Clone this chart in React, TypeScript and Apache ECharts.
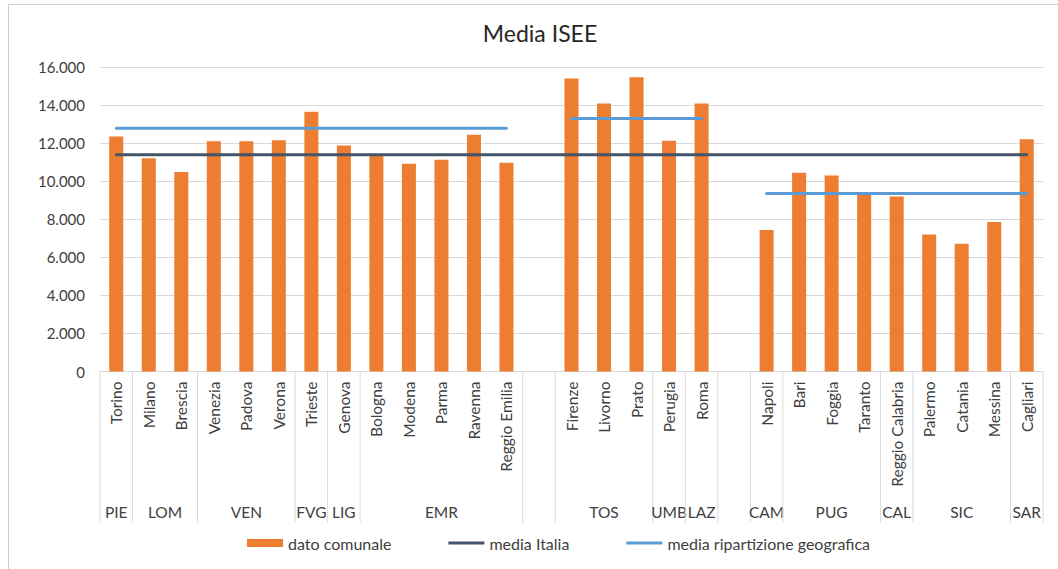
import React, { useEffect, useRef } from "react";
import * as echarts from "echarts";

// Comuni (categories on the inner axis level); empty strings are spacer columns
const cities = [
  "Torino", "Milano", "Brescia", "Venezia", "Padova", "Verona", "Trieste", "Genova",
  "Bologna", "Modena", "Parma", "Ravenna", "Reggio Emilia", "",
  "Firenze", "Livorno", "Prato", "Perugia", "Roma", "",
  "Napoli", "Bari", "Foggia", "Taranto", "Reggio Calabria", "Palermo", "Catania", "Messina", "Cagliari",
];

// Media ISEE per comune
const comuneValues = [
  12350, 11200, 10480, 12100, 12100, 12150, 13650, 11870,
  11380, 10920, 11130, 12440, 10970, null,
  15390, 14080, 15460, 12130, 14080, null,
  7440, 10440, 10300, 9330, 9200, 7200, 6710, 7860, 12200,
];

// National average
const italiaAverage = 11390;

// Averages of the geographic areas, and which area each column belongs to
const areaAverages = [12780, 13300, 9350];
const cityArea = [
  0, 0, 0, 0, 0, 0, 0, 0, 0, 0, 0, 0, 0, null,
  1, 1, 1, 1, 1, null,
  2, 2, 2, 2, 2, 2, 2, 2, 2,
];

// Outer axis level: region codes and how many columns each spans
const regionCodes = ["PIE", "LOM", "VEN", "FVG", "LIG", "EMR", "", "TOS", "UMB", "LAZ", "", "CAM", "PUG", "CAL", "SIC", "SAR"];
const regionSpans = [1, 2, 3, 1, 1, 5, 1, 3, 1, 1, 1, 1, 3, 1, 3, 1];

// Y axis ticks
const yMin = 0;
const yMax = 16000;
const yStep = 2000;

const FONT = "Lato, 'Liberation Sans', sans-serif";
const TEXT = "#404040";
const RULE = "#d9d9d9";

// thin bar used as the legend icon of the line series
const LINE_ICON = "path://M0,0 L36,0 L36,3 L0,3 Z";

const formatThousands = (v: number) =>
  String(v).replace(/\B(?=(\d{3})+(?!\d))/g, ".");

export default function App() {
  const ref = useRef<HTMLDivElement>(null);

  useEffect(() => {
    if (!ref.current) return;
    const chart = echarts.init(ref.current, undefined, { renderer: "svg" });

    const regionStarts: number[] = [];
    regionSpans.reduce((acc, n) => {
      regionStarts.push(acc);
      return acc + n;
    }, 0);

    const italiaLine = cities.map(() => italiaAverage);
    const areaLine = cityArea.map((a) => (a === null ? null : areaAverages[a]));

    chart.setOption({
      animation: false,
      backgroundColor: "#ffffff",
      title: {
        text: "Media ISEE",
        left: 535,
        textAlign: "center",
        top: 16,
        textStyle: { fontFamily: FONT, fontSize: 23, fontWeight: "normal", color: "#262626" },
      },
      graphic: [
        {
          type: "rect",
          shape: { x: 8.5, y: 4.5, width: 1100, height: 620 },
          style: { fill: "none", stroke: "#d0d0d0", lineWidth: 1 },
          silent: true,
        },
      ],
      legend: {
        data: [
          { name: "dato comunale", icon: "rect" },
          { name: "media Italia", icon: LINE_ICON },
          { name: "media ripartizione geografica", icon: LINE_ICON },
        ],
        left: 242,
        top: 530,
        itemWidth: 36,
        itemHeight: 8,
        itemGap: 57,
        symbolKeepAspect: true,
        textStyle: { fontFamily: FONT, fontSize: 16, color: TEXT },
      },
      grid: { left: 100, right: 15, top: 67, bottom: 197.5, containLabel: false },
      xAxis: {
        type: "category",
        data: cities,
        boundaryGap: true,
        axisLine: { show: true, lineStyle: { color: RULE, width: 1 } },
        axisTick: { show: false },
        axisLabel: {
          interval: 0,
          rotate: 90,
          margin: 10,
          fontFamily: FONT,
          fontSize: 15.5,
          color: TEXT,
        },
        splitLine: { show: false },
      },
      yAxis: {
        type: "value",
        min: yMin,
        max: yMax,
        interval: yStep,
        axisLine: { show: false },
        axisTick: { show: false },
        axisLabel: {
          margin: 15,
          fontFamily: FONT,
          fontSize: 15,
          color: TEXT,
          formatter: (v: number) => formatThousands(v),
        },
        splitLine: { lineStyle: { color: RULE, width: 1 } },
      },
      series: [
        {
          name: "dato comunale",
          type: "bar",
          data: comuneValues,
          barWidth: 14,
          itemStyle: { color: "#ED7D31" },
        },
        {
          name: "media Italia",
          type: "line",
          data: italiaLine,
          symbol: "none",
          lineStyle: { color: "#44546A", width: 3, cap: "round" },
          itemStyle: { color: "#44546A" },
          z: 3,
        },
        {
          name: "media ripartizione geografica",
          type: "line",
          data: areaLine,
          connectNulls: false,
          symbol: "none",
          lineStyle: { color: "#5B9BD5", width: 3, cap: "round" },
          itemStyle: { color: "#5B9BD5" },
          z: 4,
        },
        {
          // region level of the category axis: separators and codes
          name: "regioni",
          type: "custom",
          silent: true,
          clip: false,
          data: regionStarts.map((s) => [s, 0]),
          encode: { x: 0, y: 1 },
          renderItem: (params: any, api: any) => {
            const i = params.dataIndex;
            const first = api.coord([regionStarts[i], 0]);
            const last = api.coord([regionStarts[i] + regionSpans[i] - 1, 0]);
            const w = api.size([1, 0])[0];
            const x0 = first[0] - w / 2;
            const x1 = last[0] + w / 2;
            const y0 = first[1];
            const children: any[] = [
              {
                type: "line",
                shape: { x1: x0, y1: y0, x2: x0, y2: y0 + 151 },
                style: { stroke: RULE, lineWidth: 1 },
              },
              {
                type: "text",
                x: (x0 + x1) / 2,
                y: y0 + 140,
                style: {
                  text: regionCodes[i],
                  fontFamily: FONT,
                  fontSize: 15.5,
                  fill: TEXT,
                  align: "center",
                  verticalAlign: "middle",
                },
              },
            ];
            if (i === regionCodes.length - 1) {
              children.push({
                type: "line",
                shape: { x1: x1, y1: y0, x2: x1, y2: y0 + 151 },
                style: { stroke: RULE, lineWidth: 1 },
              });
            }
            return { type: "group", children };
          },
        },
      ],
    });

    return () => chart.dispose();
  }, []);

  return (
    <div
      ref={ref}
      style={{ position: "fixed", left: 0, top: 0, width: 1058, height: 569 }}
    />
  );
}
